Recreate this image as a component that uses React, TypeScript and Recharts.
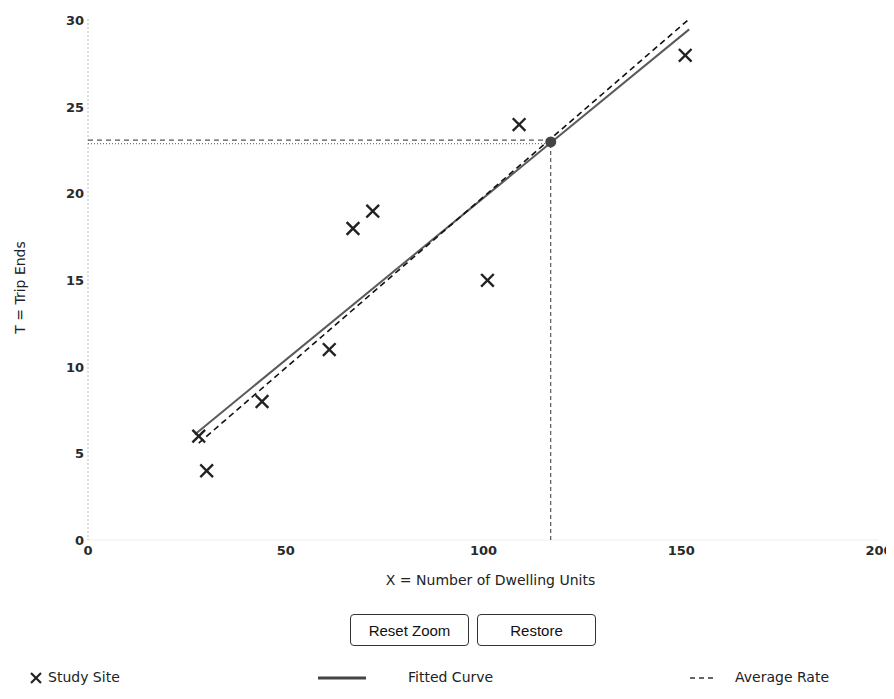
import React from "react";
import { ComposedChart, Scatter, XAxis, YAxis } from "recharts";

const studyX = [28, 30, 44, 61, 67, 72, 101, 109, 151];
const studyY = [6, 4, 8, 11, 18, 19, 15, 24, 28];
const fittedX = [27, 152];
const fittedY = [6.1, 29.5];
const avgX = [28, 152];
const avgY = [5.6, 30.1];
const pointX = [117];
const pointY = [23];
const vGuideX = [117, 117];
const vGuideY = [0, 23];
const hGuideX = [0, 117];
const hGuideY1 = [23.1, 23.1];
const hGuideY2 = [22.9, 22.9];
const xTicks = [0, 50, 100, 150, 200];
const yTicks = [0, 5, 10, 15, 20, 25, 30];

const zip = (xs: number[], ys: number[]) => xs.map((x, i) => ({ x, y: ys[i] }));

const studyData = zip(studyX, studyY);
const fittedData = zip(fittedX, fittedY);
const avgData = zip(avgX, avgY);
const pointData = zip(pointX, pointY);
const vGuide = zip(vGuideX, vGuideY);
const hGuide1 = zip(hGuideX, hGuideY1);
const hGuide2 = zip(hGuideX, hGuideY2);

const FONT = "'DejaVu Sans', Verdana, sans-serif";

const Cross = (props: any) => {
  const { cx, cy } = props;
  if (cx == null || cy == null) return <g />;
  const s = 5.5;
  return (
    <g stroke="#222" strokeWidth={2.4} strokeLinecap="square">
      <line x1={cx - s} y1={cy - s} x2={cx + s} y2={cy + s} />
      <line x1={cx - s} y1={cy + s} x2={cx + s} y2={cy - s} />
    </g>
  );
};

const Dot = (props: any) => {
  const { cx, cy } = props;
  if (cx == null || cy == null) return <g />;
  return <circle cx={cx} cy={cy} r={5.5} fill="#444" />;
};

const Empty = () => <g />;

const tickStyle = { fontSize: 13, fontWeight: 700, fill: "#2a2a2a", fontFamily: FONT };

const btnStyle: React.CSSProperties = {
  position: "absolute",
  top: 606,
  width: 119,
  height: 32,
  boxSizing: "border-box",
  border: "1.5px solid #333",
  borderRadius: 4,
  background: "#fff",
  fontFamily: "'Liberation Sans', Arial, sans-serif",
  fontSize: 15,
  color: "#111",
  display: "flex",
  alignItems: "center",
  justifyContent: "center",
};

const legendText: React.CSSProperties = {
  position: "absolute",
  top: 660,
  fontFamily: FONT,
  fontSize: 14,
  color: "#222",
  lineHeight: "18px",
  whiteSpace: "nowrap",
};

export default function App() {
  return (
    <div style={{ position: "relative", width: 886, height: 683 }}>
      <ComposedChart
        width={886}
        height={590}
        margin={{ top: 11, right: 15, left: 0, bottom: 0 }}
      >
        <XAxis
          type="number"
          dataKey="x"
          domain={[0, 200]}
          ticks={xTicks}
          tickLine={false}
          tickSize={0}
          tickMargin={6}
          axisLine={{ stroke: "#eee" }}
          tick={tickStyle}
          height={58}
          label={{
            value: "X = Number of Dwelling Units",
            position: "insideBottom",
            offset: 13,
            dx: 7,
            fill: "#222",
            style: { fontSize: 14, fill: "#222", fontFamily: FONT },
          }}
        />
        <YAxis
          type="number"
          dataKey="y"
          domain={[0, 30]}
          ticks={yTicks}
          tickLine={false}
          tickSize={0}
          tickMargin={4}
          axisLine={{ stroke: "#bbb", strokeDasharray: "2 2" }}
          tick={tickStyle}
          width={80}
          label={{
            value: "T = Trip Ends",
            angle: -90,
            position: "insideLeft",
            offset: 12,
            dy: 8,
            fill: "#222",
            style: { fontSize: 14, fill: "#222", fontFamily: FONT, textAnchor: "middle" },
          }}
        />
        <Scatter
          data={hGuide2}
          line={{ stroke: "#777", strokeWidth: 1.3, strokeDasharray: "1 2" }}
          shape={Empty}
          isAnimationActive={false}
        />
        <Scatter
          data={hGuide1}
          line={{ stroke: "#555", strokeWidth: 1.2, strokeDasharray: "5 4" }}
          shape={Empty}
          isAnimationActive={false}
        />
        <Scatter
          data={vGuide}
          line={{ stroke: "#333", strokeWidth: 1, strokeDasharray: "4 3" }}
          shape={Empty}
          isAnimationActive={false}
        />
        <Scatter
          data={fittedData}
          line={{ stroke: "#5a5a5a", strokeWidth: 2 }}
          shape={Empty}
          isAnimationActive={false}
        />
        <Scatter
          data={avgData}
          line={{ stroke: "#111", strokeWidth: 1.6, strokeDasharray: "6 4" }}
          shape={Empty}
          isAnimationActive={false}
        />
        <Scatter data={studyData} shape={Cross} isAnimationActive={false} />
        <Scatter data={pointData} shape={Dot} isAnimationActive={false} />
      </ComposedChart>

      <div style={{ ...btnStyle, left: 342 }}>Reset Zoom</div>
      <div style={{ ...btnStyle, left: 469 }}>Restore</div>

      <svg
        style={{ position: "absolute", left: 20, top: 662 }}
        width={16}
        height={16}
      >
        <g stroke="#222" strokeWidth={2.2}>
          <line x1={3} y1={3} x2={13} y2={13} />
          <line x1={3} y1={13} x2={13} y2={3} />
        </g>
      </svg>
      <div style={{ ...legendText, left: 40 }}>Study Site</div>

      <svg style={{ position: "absolute", left: 310, top: 662 }} width={50} height={16}>
        <line x1={0} y1={8} x2={48} y2={8} stroke="#444" strokeWidth={3} />
      </svg>
      <div style={{ ...legendText, left: 400 }}>Fitted Curve</div>

      <svg style={{ position: "absolute", left: 682, top: 662 }} width={26} height={16}>
        <line x1={0} y1={8} x2={24} y2={8} stroke="#333" strokeWidth={1.6} strokeDasharray="5 4" />
      </svg>
      <div style={{ ...legendText, left: 727 }}>Average Rate</div>
    </div>
  );
}
